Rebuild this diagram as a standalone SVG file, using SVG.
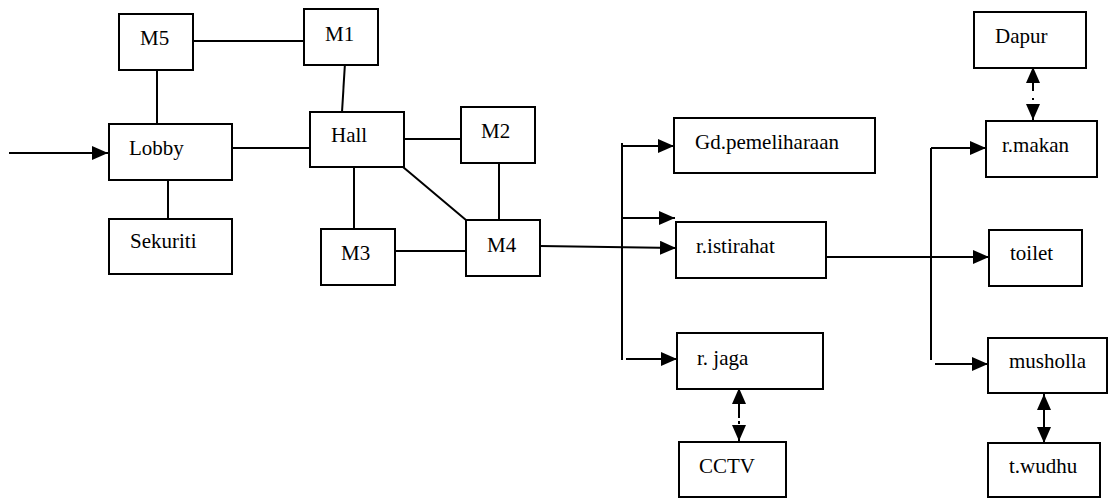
<svg xmlns="http://www.w3.org/2000/svg" width="1109" height="498" viewBox="0 0 1109 498">
  <style>
    .box rect { fill: #fff; stroke: #000; stroke-width: 2; }
    .box text { font-size: 21px; fill: #000; }
    .wires path { fill: none; stroke: #000; stroke-width: 2; }
  </style>
  <defs>
    <marker id="head" viewBox="0 0 16 14" refX="16" refY="7" markerWidth="16" markerHeight="14" markerUnits="userSpaceOnUse" orient="auto-start-reverse">
      <path d="M0,0 L16,7 L0,14 z" fill="#000"/>
    </marker>
  </defs>

  <g class="wires" id="connectors">
    <path d="M9,153 H108" marker-end="url(#head)"/>
    <path d="M191,41 H304"/>
    <path d="M157,70 V124"/>
    <path d="M232,148 H310"/>
    <path d="M345,63 L342,112"/>
    <path d="M168,180 V219"/>
    <path d="M354,167 V229"/>
    <path d="M404,139 H461"/>
    <path d="M403,167 L466,220"/>
    <path d="M499,163 V220"/>
    <path d="M395,251 H466"/>
    <path d="M540,246 L676,248" marker-end="url(#head)"/>
    <path d="M622,143 V360"/>
    <path d="M622,146 H674" marker-end="url(#head)"/>
    <path d="M622,218 H675" marker-end="url(#head)"/>
    <path d="M626,359 H677" marker-end="url(#head)"/>
    <path d="M826,257 H989" marker-end="url(#head)"/>
    <path d="M931,148 V360"/>
    <path d="M931,148 H986" marker-end="url(#head)"/>
    <path d="M935,364 H988" marker-end="url(#head)"/>
    <path d="M739,388 V441" stroke-dasharray="30 3 3 2 20" marker-start="url(#head)" marker-end="url(#head)"/>
    <path d="M1033,67 V120" stroke-dasharray="24 7 2 4 20" marker-start="url(#head)" marker-end="url(#head)"/>
    <path d="M1044,394 V443" marker-start="url(#head)" marker-end="url(#head)"/>
  </g>

  <g class="box" id="nodes" font-family="Liberation Serif, Tinos, DejaVu Serif, serif">
    <g id="m5"><rect x="119" y="14" width="74" height="56"/><text x="140" y="45">M5</text></g>
    <g id="m1"><rect x="304" y="9" width="74" height="56"/><text x="325" y="41">M1</text></g>
    <g id="lobby"><rect x="109" y="124" width="123" height="56"/><text x="129" y="155">Lobby</text></g>
    <g id="hall"><rect x="310" y="112" width="94" height="55"/><text x="331" y="142">Hall</text></g>
    <g id="m2"><rect x="461" y="107" width="74" height="56"/><text x="481" y="138">M2</text></g>
    <g id="sekuriti"><rect x="109" y="219" width="123" height="55"/><text x="130" y="248">Sekuriti</text></g>
    <g id="m3"><rect x="321" y="229" width="74" height="56"/><text x="341" y="260">M3</text></g>
    <g id="m4"><rect x="466" y="220" width="74" height="56"/><text x="487" y="252">M4</text></g>
    <g id="gd-pemeliharaan"><rect x="674" y="118" width="201" height="55"/><text x="695" y="149">Gd.pemeliharaan</text></g>
    <g id="r-istirahat"><rect x="676" y="222" width="150" height="56"/><text x="696" y="253">r.istirahat</text></g>
    <g id="r-jaga"><rect x="677" y="333" width="146" height="56"/><text x="697" y="365">r. jaga</text></g>
    <g id="cctv"><rect x="679" y="442" width="107" height="55"/><text x="699" y="473">CCTV</text></g>
    <g id="dapur"><rect x="974" y="12" width="112" height="56"/><text x="995" y="43">Dapur</text></g>
    <g id="r-makan"><rect x="986" y="121" width="111" height="56"/><text x="1002" y="152">r.makan</text></g>
    <g id="toilet"><rect x="989" y="230" width="93" height="56"/><text x="1010" y="260">toilet</text></g>
    <g id="musholla"><rect x="988" y="338" width="119" height="55"/><text x="1009" y="368">musholla</text></g>
    <g id="t-wudhu"><rect x="988" y="443" width="112" height="54"/><text x="1009" y="473">t.wudhu</text></g>
  </g>
</svg>
